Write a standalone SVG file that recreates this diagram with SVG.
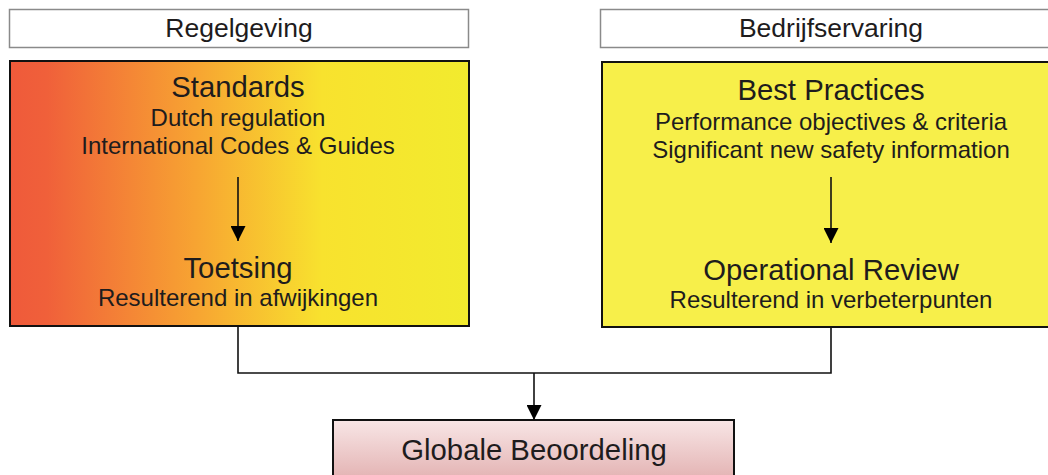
<svg xmlns="http://www.w3.org/2000/svg" width="1048" height="475" viewBox="0 0 1048 475">
<defs>
<linearGradient id="gLeft" x1="0" y1="0" x2="1" y2="0">
<stop offset="0" stop-color="#EF5A3A"/>
<stop offset="0.08" stop-color="#F0603A"/>
<stop offset="0.4" stop-color="#F7A332"/>
<stop offset="0.68" stop-color="#F8E22E"/>
<stop offset="1" stop-color="#F2EB2E"/>
</linearGradient>
<linearGradient id="gPink" x1="0" y1="0" x2="0" y2="1">
<stop offset="0" stop-color="#F8E6E6"/>
<stop offset="1" stop-color="#E3B2B2"/>
</linearGradient>
<marker id="arrBig" viewBox="0 0 10 10" refX="10" refY="5" markerWidth="15" markerHeight="15" markerUnits="userSpaceOnUse" orient="auto">
<path d="M0,0 L10,5 L0,10 z" fill="#000"/>
</marker>
</defs>
<style>
text { font-family: "Liberation Sans", Arial, sans-serif; fill: #1E1C1D; text-anchor: middle; }
.lbl { fill: #fff; stroke: #8A8A8A; stroke-width: 1.5; }
.box { stroke: #111; stroke-width: 2; }
.t1 { font-size: 29.3px; }
.t2 { font-size: 24px; }
.t3 { font-size: 26.5px; }
.t4 { font-size: 29.3px; }
.conn { fill: none; stroke: #111; stroke-width: 1.6; }
</style>
<rect width="1048" height="475" fill="#fff"/>

<g id="label-regelgeving">
<rect class="lbl" x="9.5" y="9.5" width="459" height="38"/>
<text class="t3" x="239" y="37">Regelgeving</text>
</g>
<g id="label-bedrijfservaring">
<rect class="lbl" x="600.5" y="9.5" width="460" height="38"/>
<text class="t3" x="831" y="37">Bedrijfservaring</text>
</g>

<g id="node-standards">
<rect class="box" x="10" y="61" width="459" height="265" fill="url(#gLeft)"/>
<text class="t1" x="238" y="97">Standards</text>
<text class="t2" x="238" y="126">Dutch regulation</text>
<text class="t2" x="238" y="154">International Codes &amp; Guides</text>
<text class="t1" x="238" y="278">Toetsing</text>
<text class="t2" x="238" y="306">Resulterend in afwijkingen</text>
</g>

<g id="node-bestpractices">
<rect class="box" x="602" y="62" width="460" height="265" fill="#F7EF4A"/>
<text class="t1" x="831" y="100">Best Practices</text>
<text class="t2" x="831" y="130">Performance objectives &amp; criteria</text>
<text class="t2" x="831" y="158">Significant new safety information</text>
<text class="t1" x="831" y="280">Operational Review</text>
<text class="t2" x="831" y="308">Resulterend in verbeterpunten</text>
</g>

<g id="node-globale">
<rect class="box" x="333" y="420" width="401" height="60" fill="url(#gPink)"/>
<text class="t4" x="534" y="460">Globale Beoordeling</text>
</g>

<g id="connectors">
<line class="conn" x1="238" y1="177" x2="238" y2="241" marker-end="url(#arrBig)"/>
<line class="conn" x1="831" y1="177" x2="831" y2="243" marker-end="url(#arrBig)"/>
<polyline class="conn" points="238,326 238,373 831,373 831,327"/>
<line class="conn" x1="534" y1="373" x2="534" y2="420" marker-end="url(#arrBig)"/>
</g>
</svg>
